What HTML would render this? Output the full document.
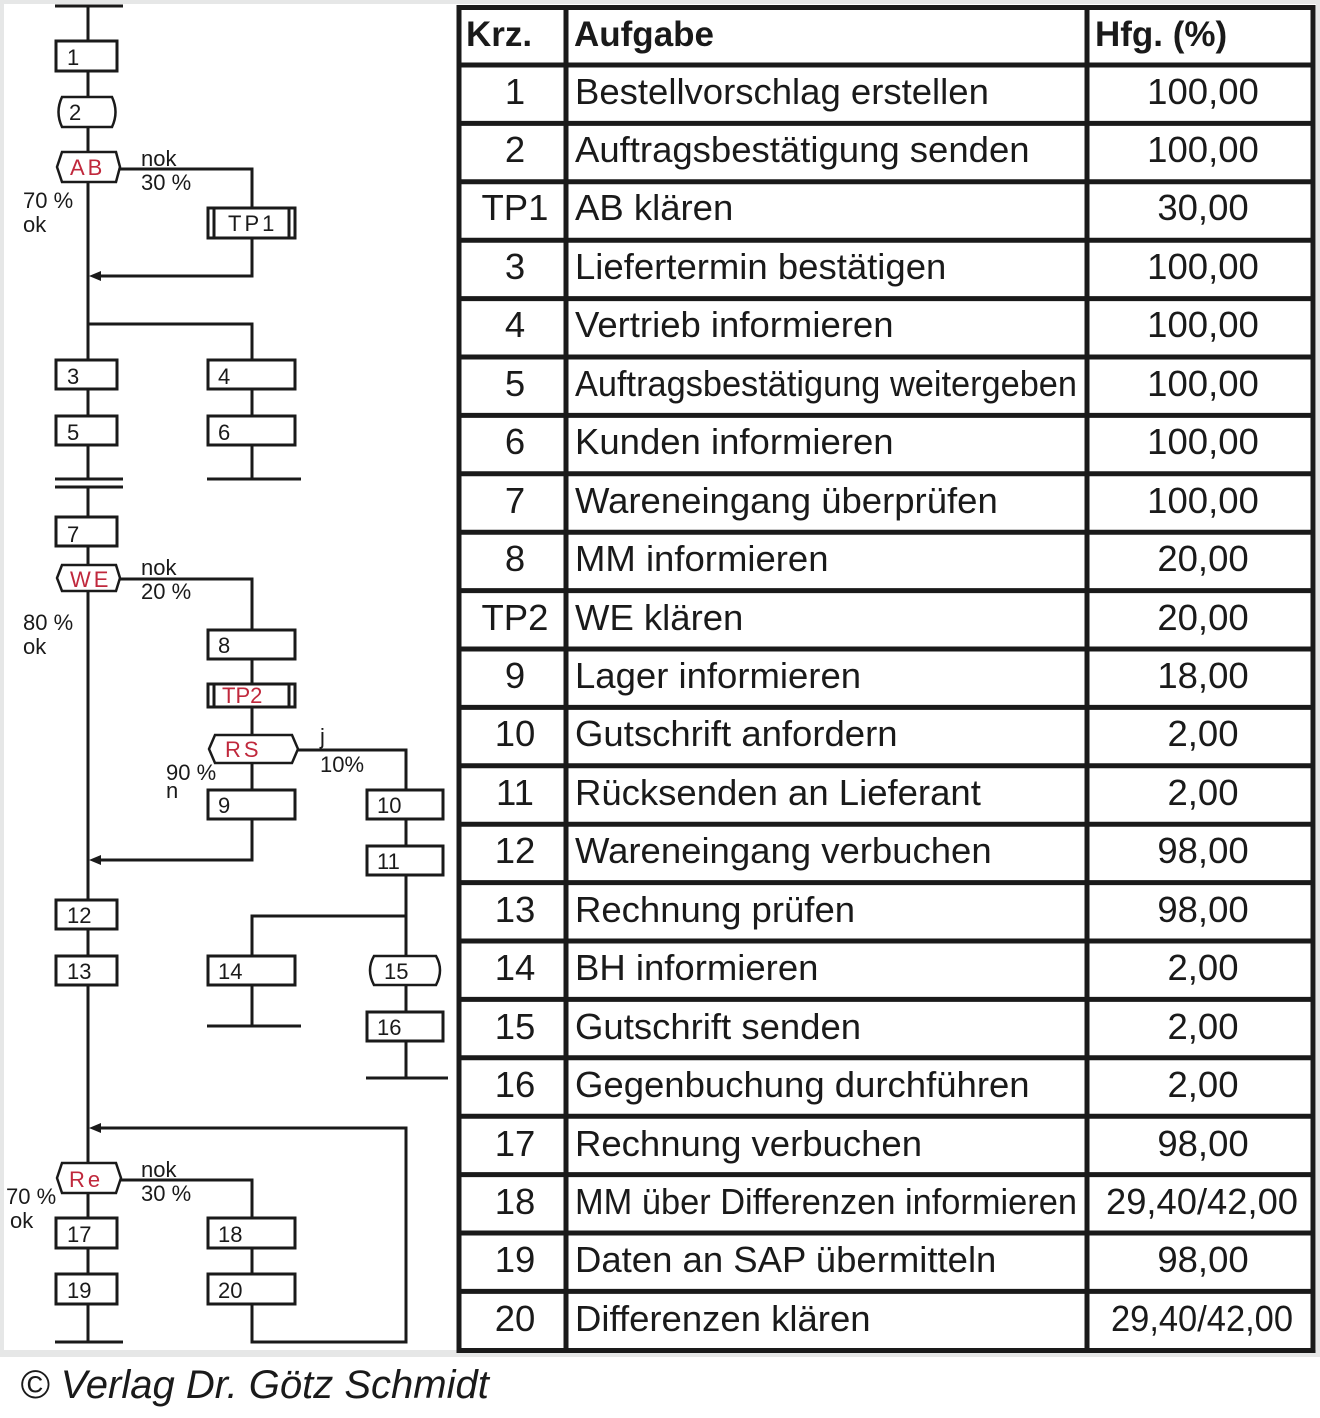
<!DOCTYPE html>
<html><head><meta charset="utf-8"><style>
html,body{margin:0;padding:0;background:#fff}
svg{display:block}
.d{font-family:"Liberation Sans",sans-serif;font-size:22px;fill:#1a1a1a}
.r{fill:#c0283c;letter-spacing:3px}
.t{font-family:"Liberation Sans",sans-serif;font-size:36.5px;fill:#1a1a1a}
.h{font-weight:bold}
</style></head><body>
<svg width="1320" height="1418" viewBox="0 0 1320 1418" xmlns="http://www.w3.org/2000/svg">
<rect x="0" y="0" width="1320" height="1357" fill="#e6e7e7"/>
<rect x="4" y="4" width="1312" height="1346" fill="#fff"/>
<g stroke="#1a1a1a" stroke-width="3" fill="none">
<line x1="88" y1="6" x2="88" y2="479"/>
<line x1="55" y1="6" x2="123" y2="6"/>
<line x1="88" y1="487" x2="88" y2="1342"/>
<polyline points="120,169 252,169 252,276 96,276"/>
<polyline points="88,324 252,324 252,479"/>
<line x1="55" y1="479" x2="123" y2="479"/>
<line x1="55" y1="487" x2="123" y2="487"/>
<line x1="207" y1="479" x2="301" y2="479"/>
<polyline points="120,579 252,579 252,860 96,860"/>
<polyline points="298,750 406,750 406,1078"/>
<line x1="366" y1="1078" x2="448" y2="1078"/>
<polyline points="406,916 252,916 252,1026"/>
<line x1="207" y1="1026" x2="301" y2="1026"/>
<polyline points="96,1128 406,1128 406,1342 252,1342 252,1180 120,1180"/>
<line x1="55" y1="1342" x2="123" y2="1342"/>
</g>
<g fill="#1a1a1a">
<polygon points="89,276 101,271 101,281"/>
<polygon points="89,860 101,855 101,865"/>
<polygon points="89,1128 101,1123 101,1133"/>
</g>
<g stroke="#1a1a1a" stroke-width="3" fill="#fff">
<rect x="56" y="41" width="61" height="30"/>
<path d="M62,97 H112 Q119,112 112,127 H62 Q55,112 62,97 Z" stroke-width="2.5"/>
<polygon points="62,152 116,152 120,167 116,182 62,182 57,167" stroke-width="2.5"/>
<rect x="208" y="208" width="87" height="30"/>
<line x1="214" y1="208" x2="214" y2="238"/><line x1="289" y1="208" x2="289" y2="238"/>
<rect x="56" y="360" width="61" height="29"/>
<rect x="208" y="360" width="87" height="29"/>
<rect x="56" y="416" width="61" height="29"/>
<rect x="208" y="416" width="87" height="29"/>
<rect x="56" y="517" width="61" height="29"/>
<polygon points="62,565 116,565 120,578 116,591 62,591 57,578" stroke-width="2.5"/>
<rect x="208" y="630" width="87" height="29"/>
<rect x="208" y="684" width="87" height="23"/>
<line x1="214" y1="684" x2="214" y2="707"/><line x1="289" y1="684" x2="289" y2="707"/>
<polygon points="215,735 292,735 298,749 292,763 215,763 209,749" stroke-width="2.5"/>
<rect x="208" y="790" width="87" height="29"/>
<rect x="367" y="790" width="76" height="29"/>
<rect x="367" y="846" width="76" height="29"/>
<rect x="56" y="900" width="61" height="29"/>
<rect x="56" y="956" width="61" height="29"/>
<rect x="208" y="956" width="87" height="29"/>
<path d="M374,956 H436 Q444,970 436,985 H374 Q366,970 374,956 Z" stroke-width="2.5"/>
<rect x="367" y="1012" width="76" height="29"/>
<polygon points="62,1163 116,1163 121,1178 116,1193 62,1193 57,1178" stroke-width="2.5"/>
<rect x="56" y="1218" width="61" height="30"/>
<rect x="208" y="1218" width="87" height="30"/>
<rect x="56" y="1274" width="61" height="30"/>
<rect x="208" y="1274" width="87" height="30"/>
</g>
<g class="d">
<text x="67" y="65">1</text>
<text x="69" y="120">2</text>
<text x="70" y="175" class="r">AB</text>
<text x="141" y="166">nok</text><text x="141" y="190">30 %</text>
<text x="23" y="208">70 %</text><text x="23" y="232">ok</text>
<text x="228" y="231" style="letter-spacing:3px">TP1</text>
<text x="67" y="384">3</text><text x="218" y="384">4</text>
<text x="67" y="440">5</text><text x="218" y="440">6</text>
<text x="67" y="542">7</text>
<text x="70" y="587" class="r">WE</text>
<text x="141" y="575">nok</text><text x="141" y="599">20 %</text>
<text x="23" y="630">80 %</text><text x="23" y="654">ok</text>
<text x="218" y="653">8</text>
<text x="222" y="703" class="r" style="letter-spacing:0">TP2</text>
<text x="225" y="757" class="r">RS</text>
<text x="320" y="744">j</text><text x="320" y="772">10%</text>
<text x="166" y="780">90 %</text><text x="166" y="798">n</text>
<text x="218" y="813">9</text>
<text x="377" y="813">10</text><text x="377" y="869">11</text>
<text x="67" y="923">12</text><text x="67" y="979">13</text>
<text x="218" y="979">14</text><text x="384" y="979">15</text>
<text x="377" y="1035">16</text>
<text x="69" y="1187" class="r">Re</text>
<text x="141" y="1177">nok</text><text x="141" y="1201">30 %</text>
<text x="6" y="1204">70 %</text><text x="10" y="1228">ok</text>
<text x="67" y="1242">17</text><text x="218" y="1242">18</text>
<text x="67" y="1298">19</text><text x="218" y="1298">20</text>
</g>
<g stroke="#1a1a1a" stroke-width="5" fill="none">
<rect x="459" y="7.5" width="854" height="1343"/>
<line x1="566" y1="7" x2="566" y2="1351"/>
<line x1="1087" y1="7" x2="1087" y2="1351"/>
<line x1="459" y1="65" x2="1313" y2="65"/><line x1="459" y1="123.4" x2="1313" y2="123.4"/><line x1="459" y1="181.8" x2="1313" y2="181.8"/><line x1="459" y1="240.2" x2="1313" y2="240.2"/><line x1="459" y1="298.6" x2="1313" y2="298.6"/><line x1="459" y1="357" x2="1313" y2="357"/><line x1="459" y1="415.4" x2="1313" y2="415.4"/><line x1="459" y1="473.8" x2="1313" y2="473.8"/><line x1="459" y1="532.2" x2="1313" y2="532.2"/><line x1="459" y1="590.6" x2="1313" y2="590.6"/><line x1="459" y1="649" x2="1313" y2="649"/><line x1="459" y1="707.4" x2="1313" y2="707.4"/><line x1="459" y1="765.8" x2="1313" y2="765.8"/><line x1="459" y1="824.2" x2="1313" y2="824.2"/><line x1="459" y1="882.6" x2="1313" y2="882.6"/><line x1="459" y1="941" x2="1313" y2="941"/><line x1="459" y1="999.4" x2="1313" y2="999.4"/><line x1="459" y1="1057.8" x2="1313" y2="1057.8"/><line x1="459" y1="1116.2" x2="1313" y2="1116.2"/><line x1="459" y1="1174.6" x2="1313" y2="1174.6"/><line x1="459" y1="1233" x2="1313" y2="1233"/><line x1="459" y1="1291.4" x2="1313" y2="1291.4"/>
</g>
<g class="t">
<text x="466" y="46" class="h" style="font-size:35px">Krz.</text><text x="574" y="46" class="h" style="font-size:35px">Aufgabe</text><text x="1095" y="46" class="h" style="font-size:35px">Hfg. (%)</text>
</g>
<g class="t">
<text x="515" y="104" text-anchor="middle">1</text><text x="575" y="104">Bestellvorschlag erstellen</text><text x="1203" y="104" text-anchor="middle">100,00</text>
<text x="515" y="162" text-anchor="middle">2</text><text x="575" y="162">Auftragsbestätigung senden</text><text x="1203" y="162" text-anchor="middle">100,00</text>
<text x="515" y="220" text-anchor="middle">TP1</text><text x="575" y="220">AB klären</text><text x="1203" y="220" text-anchor="middle">30,00</text>
<text x="515" y="279" text-anchor="middle">3</text><text x="575" y="279">Liefertermin bestätigen</text><text x="1203" y="279" text-anchor="middle">100,00</text>
<text x="515" y="337" text-anchor="middle">4</text><text x="575" y="337">Vertrieb informieren</text><text x="1203" y="337" text-anchor="middle">100,00</text>
<text x="515" y="396" text-anchor="middle">5</text><text x="575" y="396" textLength="502" lengthAdjust="spacingAndGlyphs">Auftragsbestätigung weitergeben</text><text x="1203" y="396" text-anchor="middle">100,00</text>
<text x="515" y="454" text-anchor="middle">6</text><text x="575" y="454">Kunden informieren</text><text x="1203" y="454" text-anchor="middle">100,00</text>
<text x="515" y="513" text-anchor="middle">7</text><text x="575" y="513">Wareneingang überprüfen</text><text x="1203" y="513" text-anchor="middle">100,00</text>
<text x="515" y="571" text-anchor="middle">8</text><text x="575" y="571">MM informieren</text><text x="1203" y="571" text-anchor="middle">20,00</text>
<text x="515" y="630" text-anchor="middle">TP2</text><text x="575" y="630">WE klären</text><text x="1203" y="630" text-anchor="middle">20,00</text>
<text x="515" y="688" text-anchor="middle">9</text><text x="575" y="688">Lager informieren</text><text x="1203" y="688" text-anchor="middle">18,00</text>
<text x="515" y="746" text-anchor="middle">10</text><text x="575" y="746">Gutschrift anfordern</text><text x="1203" y="746" text-anchor="middle">2,00</text>
<text x="515" y="805" text-anchor="middle">11</text><text x="575" y="805">Rücksenden an Lieferant</text><text x="1203" y="805" text-anchor="middle">2,00</text>
<text x="515" y="863" text-anchor="middle">12</text><text x="575" y="863">Wareneingang verbuchen</text><text x="1203" y="863" text-anchor="middle">98,00</text>
<text x="515" y="922" text-anchor="middle">13</text><text x="575" y="922">Rechnung prüfen</text><text x="1203" y="922" text-anchor="middle">98,00</text>
<text x="515" y="980" text-anchor="middle">14</text><text x="575" y="980">BH informieren</text><text x="1203" y="980" text-anchor="middle">2,00</text>
<text x="515" y="1039" text-anchor="middle">15</text><text x="575" y="1039">Gutschrift senden</text><text x="1203" y="1039" text-anchor="middle">2,00</text>
<text x="515" y="1097" text-anchor="middle">16</text><text x="575" y="1097">Gegenbuchung durchführen</text><text x="1203" y="1097" text-anchor="middle">2,00</text>
<text x="515" y="1156" text-anchor="middle">17</text><text x="575" y="1156">Rechnung verbuchen</text><text x="1203" y="1156" text-anchor="middle">98,00</text>
<text x="515" y="1214" text-anchor="middle">18</text><text x="575" y="1214" textLength="502" lengthAdjust="spacingAndGlyphs">MM über Differenzen informieren</text><text x="1202" y="1214" text-anchor="middle" textLength="192" lengthAdjust="spacingAndGlyphs">29,40/42,00</text>
<text x="515" y="1272" text-anchor="middle">19</text><text x="575" y="1272">Daten an SAP übermitteln</text><text x="1203" y="1272" text-anchor="middle">98,00</text>
<text x="515" y="1331" text-anchor="middle">20</text><text x="575" y="1331">Differenzen klären</text><text x="1202" y="1331" text-anchor="middle" textLength="182" lengthAdjust="spacingAndGlyphs">29,40/42,00</text>
</g>
<text x="20" y="1398" style="font-family:'Liberation Sans',sans-serif;font-size:40px;font-style:italic;fill:#1a1a1a">© Verlag Dr. Götz Schmidt</text>
</svg>
</body></html>
